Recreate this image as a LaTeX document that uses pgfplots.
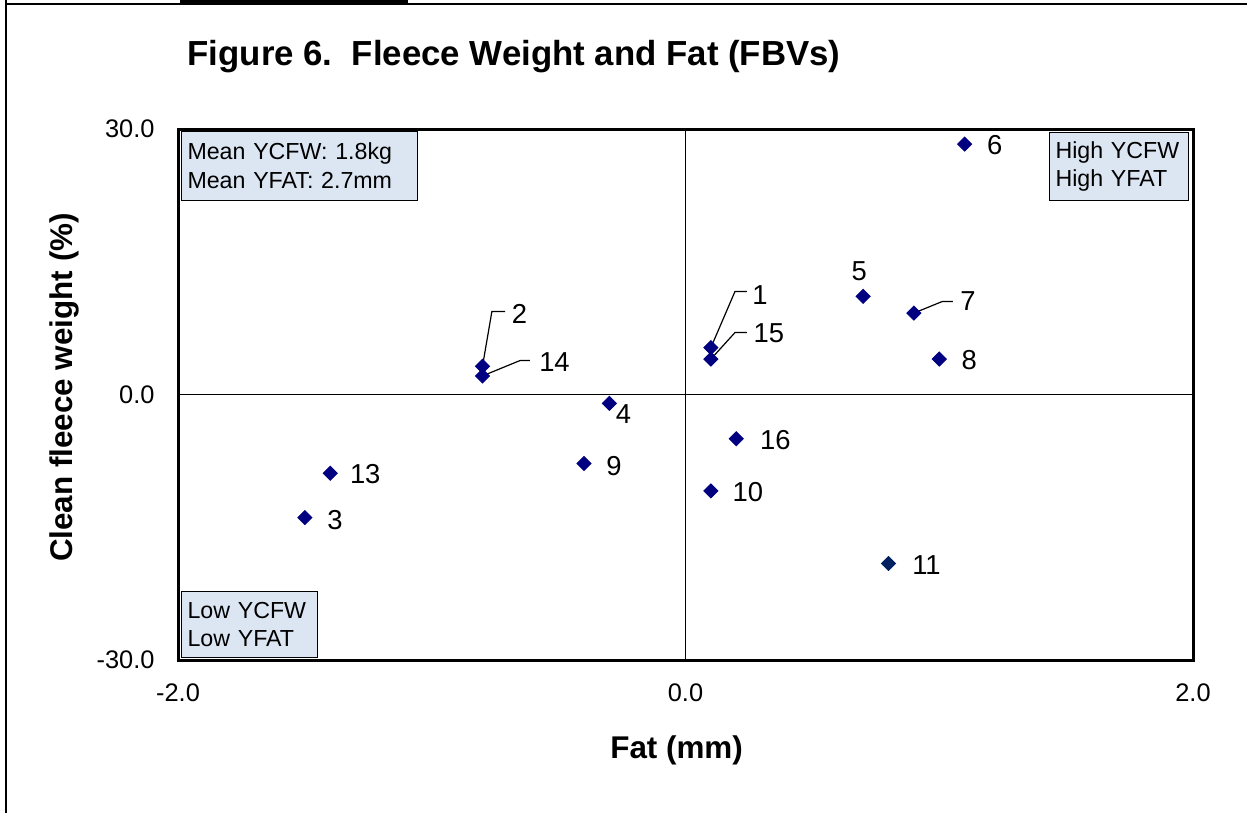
\documentclass[border=0pt]{standalone}
\usepackage{fontspec}
\setmainfont{Liberation Sans}
\usepackage{pgfplots}
\usepackage{pgfplotstable}
\pgfplotsset{compat=1.18}

\definecolor{navy}{RGB}{0,0,128}
\definecolor{darknavy}{RGB}{0,32,96}
\definecolor{boxfill}{RGB}{220,230,242}

% x = fat FBV (mm), y = clean fleece weight (%), sire number, label offset (pt)
\pgfplotstableread{
x     y      lab  dx    dy
0.1   5.3    1    24.5  26.5
-0.8  3.2    2    18.5  26
-1.5  -13.9  3    15    -1.5
-0.3  -1.0   4    7     -5.5
0.7   11.1   5    -2    12.5
1.1   28.3   6    15    -0.5
0.9   9.2    7    27    6
1.0   4.0    8    15    -0.5
-0.4  -7.8   9    15    -1.5
0.1   -10.9  10   18.5  -0.5
-1.4  -8.9   13   17.5  -0.5
-0.8  2.1    14   36    7
0.1   4.0    15   29    13
0.2   -5.0   16   19.5  -0.5
}\fbvdata

\pgfplotstableread{
x     y      lab  dx    dy
0.8   -19.1  11   19    -1
}\fbvodd

\begin{document}
\begin{tikzpicture}[x=1pt,y=1pt]
\path[use as bounding box] (0,0) rectangle (623.5,-406.5);

% page frame
\draw[line width=1pt] (3,0.5) -- (3,-406.5);
\draw[line width=1pt] (3,-2) -- (623.5,-2);
\fill (90,0) rectangle (204,-1.5);

\begin{axis}[
    scale only axis,
    width=507.5pt, height=265.5pt,
    at={(89pt,-330pt)}, anchor=south west,
    xmin=-2, xmax=2, ymin=-30, ymax=30,
    xtick={-2,0,2}, xticklabels={-2.0,0.0,2.0},
    ytick={-30,0,30}, yticklabels={-30.0,0.0,30.0},
    major tick length=0pt,
    axis line style={line width=1.5pt},
    tick label style={font=\fontsize{12.7}{15}\selectfont},
    xticklabel style={yshift=-8.5pt},
    yticklabel style={xshift=-8.2pt},
    clip=false,
    sire/.style={only marks, mark=square*, mark size=2.5pt,
        mark options={rotate=45, fill=#1, draw=#1},
        nodes near coords, point meta=explicit symbolic,
        visualization depends on={\thisrow{dx} \as \dx},
        visualization depends on={\thisrow{dy} \as \dy},
        every node near coord/.append style={anchor=center, inner sep=0pt,
            xshift=\dx pt, yshift=\dy pt, text=black,
            font=\fontsize{13.7}{16}\selectfont}},
]
\draw[line width=0.6pt] (axis cs:0,-30) -- (axis cs:0,30);
\draw[line width=0.6pt] (axis cs:-2,0) -- (axis cs:2,0);

\addplot[sire=navy] table[x=x, y=y, meta=lab] {\fbvdata};
\addplot[sire=darknavy] table[x=x, y=y, meta=lab] {\fbvodd};

% leader lines
\draw[line width=0.6pt] (axis cs:0.1,5.3) -- (axis cs:0.195,11.64) -- (axis cs:0.242,11.64);
\draw[line width=0.6pt] (axis cs:0.1,4.0) -- (axis cs:0.195,7.0) -- (axis cs:0.242,7.0);
\draw[line width=0.6pt] (axis cs:-0.8,3.2) -- (axis cs:-0.763,9.38) -- (axis cs:-0.711,9.38);
\draw[line width=0.6pt] (axis cs:-0.8,2.1) -- (axis cs:-0.652,3.84) -- (axis cs:-0.613,3.84);
\draw[line width=0.6pt] (axis cs:0.9,9.2) -- (axis cs:1.011,10.5) -- (axis cs:1.054,10.5);
\end{axis}

% quadrant boxes
\node[draw, line width=0.5pt, fill=boxfill, anchor=north west, minimum width=118pt,
    minimum height=34.5pt, align=left, inner xsep=3pt, text width=112pt,
    font=\fontsize{11.6}{14.4}\selectfont] at (90.5,-65.5)
    {Mean YCFW: 1.8kg\\Mean YFAT: 2.7mm};
\node[draw, line width=0.5pt, fill=boxfill, anchor=north west, minimum width=69.5pt,
    minimum height=34pt, align=left, inner xsep=3pt, text width=63.5pt,
    font=\fontsize{11.6}{14.4}\selectfont] at (524.5,-66)
    {High YCFW\\High YFAT};
\node[draw, line width=0.5pt, fill=boxfill, anchor=north west, minimum width=68pt,
    minimum height=33pt, align=left, inner xsep=3pt, text width=62pt,
    font=\fontsize{11.6}{14.4}\selectfont] at (90.5,-295.5)
    {Low YCFW\\Low YFAT};

% titles
\node[anchor=base, font=\fontsize{17.4}{20}\selectfont\bfseries] at (257,-33)
    {Figure 6.\ \ Fleece Weight and Fat (FBVs)};
\node[anchor=base, font=\fontsize{15.7}{18}\selectfont\bfseries] at (338.3,-379.2)
    {Fat (mm)};
\node[anchor=base, rotate=90, font=\fontsize{15.7}{18}\selectfont\bfseries] at (36.25,-193.75)
    {Clean fleece weight (\%)};
\end{tikzpicture}
\end{document}
